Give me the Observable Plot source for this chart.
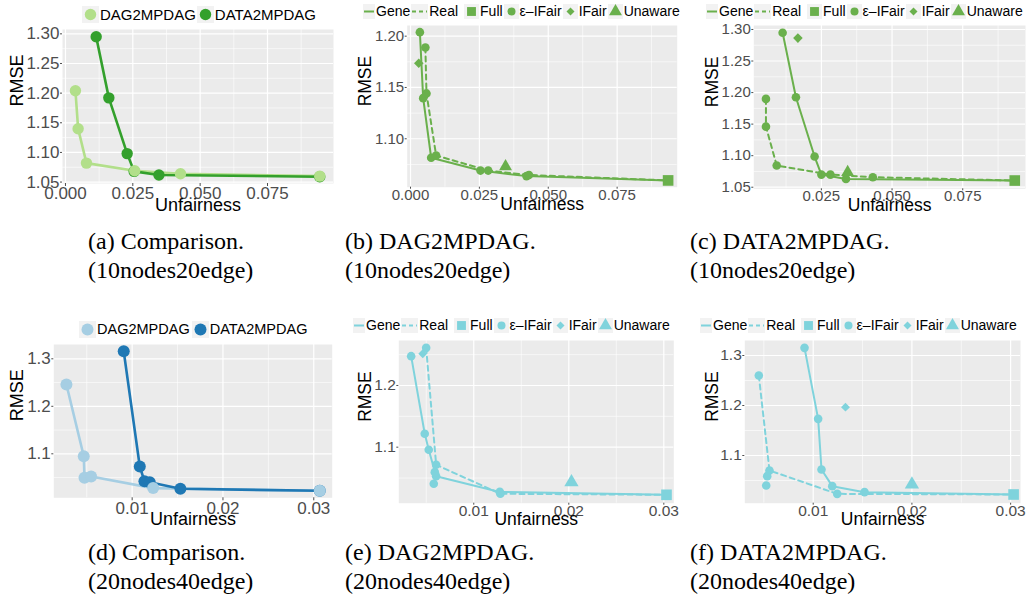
<!DOCTYPE html>
<html><head><meta charset="utf-8">
<script src="https://cdn.jsdelivr.net/npm/d3@7"></script>
<script src="https://cdn.jsdelivr.net/npm/@observablehq/plot@0.6"></script>
<style>
body{margin:0;background:#fff;}
#fig{position:relative;width:1032px;height:598px;overflow:hidden;font-family:"Liberation Sans",Arial,sans-serif;background:#fff;}
.panel{position:absolute;}
.legend{position:absolute;display:flex;align-items:center;white-space:nowrap;color:#000;z-index:2;}
.legend svg{display:block;background:#F2F2F2;}
.cap{position:absolute;font-family:"Liberation Serif","Times New Roman",serif;font-size:24px;line-height:29px;color:#000;white-space:nowrap;}
</style></head><body><div id="fig"></div><script>
// ---------- colours ----------
const lightGreen = "#b2df8a", darkGreen = "#33a02c";
const lightBlue = "#a6cee3", darkBlue = "#1f78b4";
const midGreen = "#6ab04c", cyan = "#7fd3dc";

// ---------- (a) comparison, 10nodes20edge ----------
const a_dagX  = [0.0037, 0.0047, 0.0078, 0.0257, 0.0427, 0.0944];
const a_dagY  = [1.204, 1.140, 1.082, 1.069, 1.064, 1.060];
const a_dataX = [0.0114, 0.0161, 0.0229, 0.0255, 0.0347, 0.0944];
const a_dataY = [1.295, 1.192, 1.098, 1.068, 1.062, 1.059];

// ---------- (b) DAG2MPDAG, 10nodes20edge ----------
const b_geneX = [0.0034, 0.0046, 0.0075, 0.0254, 0.0421, 0.0935];
const b_geneY = [1.2039, 1.1396, 1.0815, 1.0690, 1.0636, 1.0594];
const b_realX = [0.0054, 0.0058, 0.0093, 0.0282, 0.0430, 0.0935];
const b_realY = [1.1890, 1.1442, 1.0837, 1.0690, 1.0647, 1.0594];
const b_extraX = [], b_extraY = [];
const b_full = [0.0935, 1.0594], b_ifair = [0.0030, 1.1737], b_unaware = [0.0345, 1.0730];

// ---------- (c) DATA2MPDAG, 10nodes20edge ----------
const c_geneX = [0.0113, 0.0160, 0.0226, 0.0250, 0.0337, 0.0934];
const c_geneY = [1.2947, 1.1927, 1.0986, 1.0700, 1.0632, 1.0606];
const c_realX = [0.0054, 0.0054, 0.0092, 0.0282, 0.0432, 0.0934];
const c_realY = [1.1900, 1.1460, 1.0844, 1.0700, 1.0659, 1.0606];
const c_extraX = [], c_extraY = [];
const c_full = [0.0934, 1.0606], c_ifair = [0.0167, 1.2863], c_unaware = [0.0343, 1.0738];

// ---------- (d) comparison, 20nodes40edge ----------
const d_dagX  = [0.00276, 0.00467, 0.00475, 0.00548, 0.01231, 0.03066];
const d_dagY  = [1.246, 1.095, 1.0495, 1.0522, 1.0278, 1.0221];
const d_dataX = [0.00907, 0.01084, 0.01135, 0.01194, 0.01531, 0.03066];
const d_dataY = [1.316, 1.0733, 1.0423, 1.0402, 1.0263, 1.0221];

// ---------- (e) DAG2MPDAG, 20nodes40edge ----------
const e_geneX = [0.00341, 0.00484, 0.00526, 0.00604, 0.01274, 0.03028];
const e_geneY = [1.2475, 1.1217, 1.0959, 1.0530, 1.0275, 1.0228];
const e_realX = [0.00499, 0.00604, 0.01280, 0.03028];
const e_realY = [1.2610, 1.0714, 1.0245, 1.0228];
const e_extraX = [0.00590, 0.00579];
const e_extraY = [1.0595, 1.0408];
const e_full = [0.03028, 1.0228], e_ifair = [0.00463, 1.2514], e_unaware = [0.02028, 1.0433];

// ---------- (f) DATA2MPDAG, 20nodes40edge ----------
const f_geneX = [0.00912, 0.01050, 0.01084, 0.01193, 0.01520, 0.03030];
const f_geneY = [1.3153, 1.1733, 1.0720, 1.0387, 1.0267, 1.0220];
const f_realX = [0.00449, 0.00557, 0.01243, 0.03030];
const f_realY = [1.2600, 1.0700, 1.0233, 1.0220];
const f_extraX = [0.00534, 0.00524];
const f_extraY = [1.0587, 1.0400];
const f_full = [0.0303, 1.0220], f_ifair = [0.01327, 1.1967], f_unaware = [0.0200, 1.0420];

// ---------- ticks ----------
const xTicksTop = [0, 0.025, 0.05, 0.075];
const xMinorTop = [0.0125, 0.0375, 0.0625, 0.0875];
const yTicksTop = [1.05, 1.10, 1.15, 1.20, 1.25, 1.30];
const yMinorTop = [1.075, 1.125, 1.175, 1.225, 1.275];
const xTicksBot = [0.01, 0.02, 0.03];
const xMinorBot = [0.005, 0.015, 0.025];
const yTicksBot = [1.1, 1.2, 1.3];
const yMinorBot = [1.05, 1.15, 1.25];

const captionsTop = ["(a) Comparison.", "(b) DAG2MPDAG.", "(c) DATA2MPDAG."];
const captionsBot = ["(d) Comparison.", "(e) DAG2MPDAG.", "(f) DATA2MPDAG."];
const subTop = "(10nodes20edge)", subBot = "(20nodes40edge)";

const rows = (X, Y) => X.map((x, i) => ({x, y: Y[i]}));
const fig = document.getElementById("fig");

function panel(cfg, marks) {
  const [t, r, b, l] = cfg.margin;
  const inDom = (v, dom) => v >= dom[0] && v <= dom[1];
  const xT = cfg.xTicks.filter(v => inDom(v, cfg.xDomain));
  const yT = cfg.yTicks.filter(v => inDom(v, cfg.yDomain));
  const xM = cfg.xMinor.filter(v => inDom(v, cfg.xDomain));
  const yM = cfg.yMinor.filter(v => inDom(v, cfg.yDomain));
  const svg = Plot.plot({
    width: cfg.width, height: cfg.height,
    marginTop: t, marginRight: r, marginBottom: b, marginLeft: l,
    style: {background: "transparent", fontFamily: "Liberation Sans, Arial, sans-serif", overflow: "visible"},
    x: {domain: cfg.xDomain}, y: {domain: cfg.yDomain},
    marks: [
      Plot.frame({fill: "#EBEBEB", stroke: "none"}),
      Plot.gridX(xM, {stroke: "#fff", strokeOpacity: 1, strokeWidth: 0.6}),
      Plot.gridY(yM, {stroke: "#fff", strokeOpacity: 1, strokeWidth: 0.6}),
      Plot.gridX(xT, {stroke: "#fff", strokeOpacity: 1, strokeWidth: 1.2}),
      Plot.gridY(yT, {stroke: "#fff", strokeOpacity: 1, strokeWidth: 1.2}),
      Plot.axisX(xT, {tickFormat: d3.format(cfg.xFmt), fontSize: cfg.tickFont, color: "#4D4D4D", tickSize: cfg.xTick, tickPadding: cfg.xPad, label: null}),
      Plot.axisY(yT, {tickFormat: d3.format(cfg.yFmt), fontSize: cfg.tickFont, color: "#4D4D4D", tickSize: 2, tickPadding: 1, label: null}),
      ...marks,
      Plot.text(["Unfairness"], {text: d => d, frameAnchor: "bottom", dy: cfg.xTitleDy, fontSize: cfg.titleFont, fill: "#000"}),
      Plot.text(["RMSE"], {text: d => d, frameAnchor: "left", dx: cfg.yTitleDx, rotate: -90, fontSize: cfg.titleFont, fill: "#000"})
    ]
  });
  svg.classList.add("panel");
  svg.style.left = cfg.left + "px";
  svg.style.top = cfg.top + "px";
  svg.style.maxWidth = "none";
  fig.appendChild(svg);
}

function comparisonMarks(lx, ly, dx, dy, light, dark, lw, r) {
  const L = rows(lx, ly), D = rows(dx, dy);
  return [
    Plot.line(L, {x: "x", y: "y", stroke: light, strokeWidth: lw}),
    Plot.line(D, {x: "x", y: "y", stroke: dark, strokeWidth: lw}),
    Plot.dot(D, {x: "x", y: "y", r, fill: dark, stroke: "none"}),
    Plot.dot(L, {x: "x", y: "y", r, fill: light, stroke: "none"})
  ];
}

function methodMarks(gx, gy, rx, ry, ex, ey, full, ifair, unaware, col, sz) {
  const G = rows(gx, gy), R = rows(rx, ry), E = rows(ex, ey);
  return [
    Plot.line(G, {x: "x", y: "y", stroke: col, strokeWidth: 2}),
    Plot.line(R, {x: "x", y: "y", stroke: col, strokeWidth: 2, strokeDasharray: "5,4"}),
    Plot.dot(G.slice(0, -1), {x: "x", y: "y", r: sz.circle, fill: col, stroke: "none"}),
    Plot.dot(R.slice(0, -1), {x: "x", y: "y", r: sz.circle, fill: col, stroke: "none"}),
    Plot.dot(E, {x: "x", y: "y", r: sz.circle, fill: col, stroke: "none"}),
    Plot.dot([full], {x: d => d[0], y: d => d[1], symbol: "square", r: sz.square, fill: col, stroke: "none"}),
    Plot.dot([ifair], {x: d => d[0], y: d => d[1], symbol: "diamond2", r: sz.diamond, fill: col, stroke: "none"}),
    Plot.dot([unaware], {x: d => d[0], y: d => d[1], symbol: "triangle", r: sz.triangle, fill: col, stroke: "none"})
  ];
}

function legend(left, cy, font, keyW, items) {
  const div = document.createElement("div");
  div.className = "legend";
  div.style.left = left + "px";
  div.style.top = (cy - keyW / 2) + "px";
  div.style.fontSize = font + "px";
  div.style.height = keyW + "px";
  for (const it of items) {
    const s = d3.create("svg").attr("width", it.w || keyW).attr("height", keyW);
    const w = it.w || keyW, c = keyW / 2;
    if (it.type === "line" || it.type === "dash") {
      s.append("line").attr("x1", 1).attr("x2", w - 1).attr("y1", c).attr("y2", c)
        .attr("stroke", it.color).attr("stroke-width", 2)
        .attr("stroke-dasharray", it.type === "dash" ? "4,3" : null);
    } else {
      const map = {circle: d3.symbolCircle, square: d3.symbolSquare, diamond: d3.symbolDiamond2, triangle: d3.symbolTriangle};
      s.append("path").attr("transform", `translate(${w / 2},${c})`)
        .attr("d", d3.symbol(map[it.type], Math.PI * it.r * it.r)()).attr("fill", it.color);
    }
    div.appendChild(s.node());
    const sp = document.createElement("span");
    sp.textContent = it.label;
    sp.style.margin = `0 ${it.gap || 1}px 0 1px`;
    div.appendChild(sp);
  }
  fig.appendChild(div);
}

// ---------- panels ----------
const topCommon = {xTicks: xTicksTop, xMinor: xMinorTop, yTicks: yTicksTop, yMinor: yMinorTop, xFmt: ".3f", yFmt: ".2f"};
const botCommon = {xTicks: xTicksBot, xMinor: xMinorBot, yTicks: yTicksBot, yMinor: yMinorBot, xFmt: ".2f", yFmt: ".1f"};

panel({...topCommon, left: 0, top: 0, width: 340, height: 222, margin: [29, 7, 39, 62],
  xDomain: [-0.0011, 0.0995], yDomain: [1.0476, 1.3073], tickFont: 17, titleFont: 18, xTick: 3, xPad: 0, xTitleDy: 27, yTitleDx: -45},
  comparisonMarks(a_dagX, a_dagY, a_dataX, a_dataY, lightGreen, darkGreen, 2.6, 5.7));

const szTop = {circle: 4.3, square: 6, diamond: 4.3, triangle: 4.8};
const szBot = {circle: 4.3, square: 6, diamond: 4.0, triangle: 5.3};

panel({...topCommon, left: 340, top: 0, width: 345, height: 222, margin: [25, 8.3, 35.3, 66.7],
  yTicks: [1.10, 1.15, 1.20], yMinor: [1.075, 1.125, 1.175],
  xDomain: [-0.0012, 0.0968], yDomain: [1.0528, 1.2104], tickFont: 15, titleFont: 17.5, xTick: 2, xPad: 0, xTitleDy: 23, yTitleDx: -41.7},
  methodMarks(b_geneX, b_geneY, b_realX, b_realY, b_extraX, b_extraY, b_full, b_ifair, b_unaware, midGreen, szTop));

panel({...topCommon, left: 685, top: 0, width: 347, height: 222, margin: [25, 7, 33.7, 68.3],
  xDomain: [0.0011, 0.0972], yDomain: [1.0475, 1.3063], tickFont: 15, titleFont: 17.5, xTick: 2, xPad: 0, xTitleDy: 22, yTitleDx: -41.6},
  methodMarks(c_geneX, c_geneY, c_realX, c_realY, c_extraX, c_extraY, c_full, c_ifair, c_unaware, midGreen, szTop));

panel({...botCommon, left: 0, top: 300, width: 340, height: 240, margin: [44, 8.3, 42.7, 53.3],
  xDomain: [0.00137, 0.03203], yDomain: [1.0074, 1.3301], tickFont: 17, titleFont: 18, xTick: 3, xPad: 1.5, xTitleDy: 27, yTitleDx: -36.6},
  comparisonMarks(d_dagX, d_dagY, d_dataX, d_dataY, lightBlue, darkBlue, 2.6, 6));

panel({...botCommon, left: 340, top: 300, width: 345, height: 240, margin: [40, 11.7, 37.3, 58.3],
  xDomain: [0.00211, 0.03105], yDomain: [1.0092, 1.2729], tickFont: 15.5, titleFont: 17.5, xTick: 2, xPad: 0, xTitleDy: 21.5, yTitleDx: -33.3},
  methodMarks(e_geneX, e_geneY, e_realX, e_realY, e_extraX, e_extraY, e_full, e_ifair, e_unaware, cyan, szBot));

panel({...botCommon, left: 685, top: 300, width: 347, height: 240, margin: [40, 12, 37.3, 59.3],
  xDomain: [0.00307, 0.0310], yDomain: [1.0046, 1.33], tickFont: 15.5, titleFont: 17.5, xTick: 2, xPad: 0, xTitleDy: 21.5, yTitleDx: -32.6},
  methodMarks(f_geneX, f_geneY, f_realX, f_realY, f_extraX, f_extraY, f_full, f_ifair, f_unaware, cyan, szBot));

// ---------- legends ----------
legend(82, 14, 15, 17, [
  {type: "circle", color: lightGreen, r: 5.7, label: "DAG2MPDAG"},
  {type: "circle", color: darkGreen, r: 5.7, label: "DATA2MPDAG"}]);
legend(79, 329, 14.5, 17, [
  {type: "circle", color: lightBlue, r: 6, label: "DAG2MPDAG", gap: 2},
  {type: "circle", color: darkBlue, r: 6, label: "DATA2MPDAG"}]);

function methodLegend(left, cy, col) {
  legend(left, cy, 14, 15, [
    {type: "line", color: col, label: "Gene", w: 12},
    {type: "dash", color: col, label: "Real", w: 17, gap: 6},
    {type: "square", color: col, r: 5, label: "Full"},
    {type: "circle", color: col, r: 4, label: "ε–IFair"},
    {type: "diamond", color: col, r: 3.6, label: "IFair"},
    {type: "triangle", color: col, r: 4.8, label: "Unaware"}]);
}
methodLegend(363, 11, midGreen);
methodLegend(706, 11, midGreen);
methodLegend(353, 325, cyan);
methodLegend(700, 325, cyan);

// ---------- captions ----------
const capX = [88, 345, 690];
captionsTop.forEach((c, i) => {
  const d = document.createElement("div"); d.className = "cap";
  d.style.left = capX[i] + "px"; d.style.top = "227px";
  d.innerHTML = c + "<br>" + subTop; fig.appendChild(d);
});
captionsBot.forEach((c, i) => {
  const d = document.createElement("div"); d.className = "cap";
  d.style.left = capX[i] + "px"; d.style.top = "538px";
  d.innerHTML = c + "<br>" + subBot; fig.appendChild(d);
});
</script></body></html>
